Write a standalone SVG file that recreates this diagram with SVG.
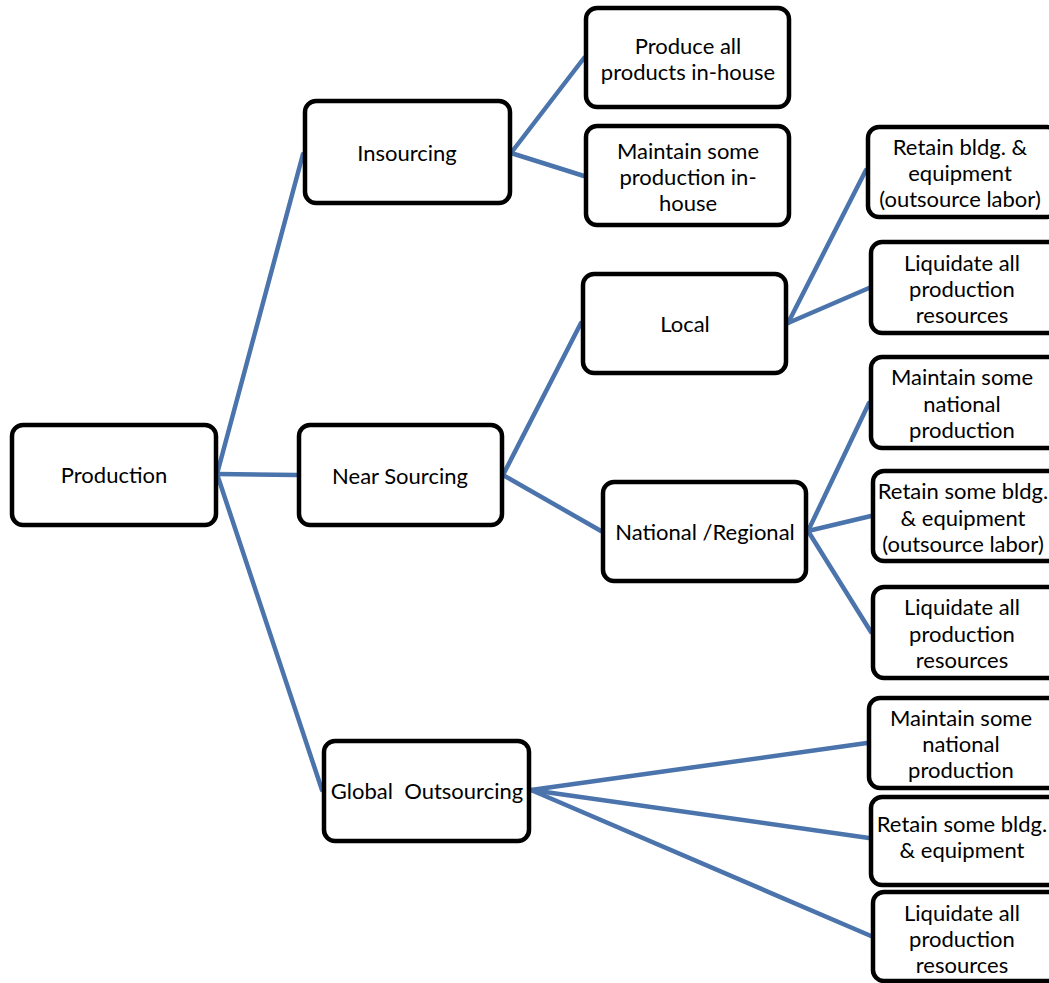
<svg xmlns="http://www.w3.org/2000/svg" width="1049" height="983" viewBox="0 0 1049 983">
<style>
.box{fill:#fff;stroke:#000;stroke-width:4.5}
.t{font-family:Lato,"Liberation Sans",sans-serif;font-size:22px;fill:#000;text-anchor:middle;dominant-baseline:central}
.c{stroke:#4A74AB;stroke-width:4.5;fill:none;stroke-linecap:round}
</style>
<rect width="1049" height="983" fill="#fff"/>
<g id="connectors">
<line class="c" x1="217" y1="474" x2="303" y2="154"/>
<line class="c" x1="217" y1="474" x2="297" y2="475"/>
<line class="c" x1="217" y1="474" x2="322" y2="790"/>
<line class="c" x1="511" y1="153" x2="584" y2="58"/>
<line class="c" x1="511" y1="153" x2="584" y2="176"/>
<line class="c" x1="503" y1="475" x2="581" y2="323"/>
<line class="c" x1="503" y1="475" x2="601" y2="531"/>
<line class="c" x1="788" y1="323" x2="866" y2="170"/>
<line class="c" x1="788" y1="323" x2="869" y2="288"/>
<line class="c" x1="808" y1="531" x2="869" y2="403"/>
<line class="c" x1="808" y1="531" x2="871" y2="516"/>
<line class="c" x1="808" y1="531" x2="871" y2="632"/>
<line class="c" x1="531" y1="790" x2="867" y2="743"/>
<line class="c" x1="531" y1="790" x2="869" y2="838"/>
<line class="c" x1="531" y1="790" x2="871" y2="936"/>
</g>
<g id="production"><rect class="box" x="12" y="425" width="204" height="100" rx="11"/><text class="t" x="114" y="474">Production</text></g>
<g id="insourcing"><rect class="box" x="305" y="101" width="205" height="102" rx="11"/><text class="t" x="407" y="152">Insourcing</text></g>
<g id="near-sourcing"><rect class="box" x="299" y="425" width="203" height="100" rx="11"/><text class="t" x="400" y="475">Near Sourcing</text></g>
<g id="global-outsourcing"><rect class="box" x="324" y="741" width="205" height="100" rx="11"/><text class="t" x="427" y="790" xml:space="preserve">Global  Outsourcing</text></g>
<g id="produce-all"><rect class="box" x="586" y="8" width="203" height="99" rx="11"/><text class="t" x="688" y="45">Produce all</text><text class="t" x="688" y="71">products in-house</text></g>
<g id="maintain-inhouse"><rect class="box" x="586" y="126" width="203" height="99" rx="11"/><text class="t" x="688" y="150">Maintain some</text><text class="t" x="688" y="176">production in-</text><text class="t" x="688" y="202">house</text></g>
<g id="local"><rect class="box" x="583" y="274" width="203" height="99" rx="11"/><text class="t" x="685" y="323">Local</text></g>
<g id="national"><rect class="box" x="603" y="482" width="203" height="99" rx="11"/><text class="t" x="705" y="531">National /Regional</text></g>
<g id="local-retain"><rect class="box" x="868" y="127" width="190" height="90" rx="11"/><text class="t" x="960" y="146">Retain bldg. &amp;</text><text class="t" x="960" y="172">equipment</text><text class="t" x="960" y="198">(outsource labor)</text></g>
<g id="local-liquidate"><rect class="box" x="871" y="242" width="190" height="91" rx="11"/><text class="t" x="962" y="262">Liquidate all</text><text class="t" x="962" y="288">production</text><text class="t" x="962" y="314">resources</text></g>
<g id="nat-maintain"><rect class="box" x="871" y="357" width="190" height="91" rx="11"/><text class="t" x="962" y="376">Maintain some</text><text class="t" x="962" y="403">national</text><text class="t" x="962" y="429">production</text></g>
<g id="nat-retain"><rect class="box" x="873" y="471" width="190" height="90" rx="11"/><text class="t" x="963" y="490">Retain some bldg.</text><text class="t" x="963" y="517">&amp; equipment</text><text class="t" x="963" y="543">(outsource labor)</text></g>
<g id="nat-liquidate"><rect class="box" x="873" y="587" width="190" height="91" rx="11"/><text class="t" x="962" y="606">Liquidate all</text><text class="t" x="962" y="633">production</text><text class="t" x="962" y="659">resources</text></g>
<g id="glob-maintain"><rect class="box" x="869" y="698" width="190" height="90" rx="11"/><text class="t" x="961" y="717">Maintain some</text><text class="t" x="961" y="743">national</text><text class="t" x="961" y="769">production</text></g>
<g id="glob-retain"><rect class="box" x="871" y="797" width="190" height="88" rx="11"/><text class="t" x="962" y="823">Retain some bldg.</text><text class="t" x="962" y="849">&amp; equipment</text></g>
<g id="glob-liquidate"><rect class="box" x="873" y="892" width="190" height="89" rx="11"/><text class="t" x="962" y="912">Liquidate all</text><text class="t" x="962" y="938">production</text><text class="t" x="962" y="964">resources</text></g>
</svg>
